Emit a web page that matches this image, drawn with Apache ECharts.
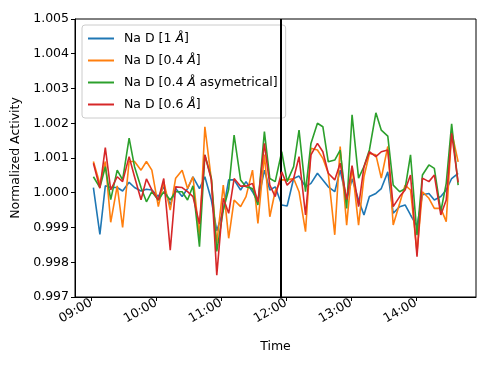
<!DOCTYPE html>
<html>
<head>
<meta charset="utf-8">
<script src="https://cdn.jsdelivr.net/npm/echarts@6/dist/echarts.min.js"></script>
<style>
  html, body { margin: 0; padding: 0; background: #fff; }
  #chart { width: 490px; height: 368px; }
</style>
</head>
<body>
<div id="chart"></div>
<script>
// sample times (HH:MM)
const times = ['09:02', '09:08', '09:13', '09:18', '09:24', '09:29', '09:35', '09:40', '09:46', '09:51',
  '09:56', '10:02', '10:07', '10:13', '10:18', '10:24', '10:29', '10:34', '10:40', '10:45', '10:51',
  '10:56', '11:02', '11:07', '11:12', '11:18', '11:23', '11:29', '11:34', '11:40',
  '11:45', '11:50', '11:56', '12:01', '12:07', '12:12', '12:18', '12:23', '12:29', '12:34', '12:39', '12:45',
  '12:50', '12:56', '13:01', '13:07', '13:12', '13:17', '13:23', '13:28', '13:34', '13:39', '13:45',
  '13:50', '13:55', '14:01', '14:06', '14:12', '14:17', '14:23', '14:28', '14:33', '14:39']

const naD1 = [1.00015, 0.99880, 1.00020, 1.00015, 1.00015, 1.00005, 1.00030, 1.00015, 1.00005, 1.00010,
  1.00008, 0.99989, 1.00017, 0.99965, 1.00012, 0.99989, 1.00012, 1.00046, 1.00012, 1.00046, 0.99979,
  0.99890, 0.99950, 1.00037, 1.00037, 1.00008, 1.00032, 1.00003, 0.99974, 1.00065,
  1.00008, 1.00017, 0.99965, 0.99962, 1.00041, 1.00048, 1.00017, 1.00027, 1.00056, 1.00037, 1.00017, 1.00003,
  1.00065, 0.99979, 1.00040, 0.99979, 0.99936, 0.99989, 0.99998, 1.00012, 1.00060, 0.99941, 0.99960,
  0.99965, 0.99936, 0.99904, 0.99994, 0.99998, 0.99979, 0.99989, 1.00008, 1.00041, 1.00056]

const naD04 = [1.00090, 1.00025, 1.00090, 0.99915, 1.00020, 0.99900, 1.00090, 1.00090, 1.00065, 1.00090,
  1.00065, 0.99960, 1.00032, 0.99950, 1.00042, 1.00065, 1.00012, 1.00046, 0.99874, 1.00190, 1.00037,
  0.99854, 1.00022, 0.99869, 0.99979, 0.99960, 0.99989, 1.00065, 0.99912, 1.00110,
  0.99931, 1.00005, 1.00037, 1.00037, 1.00041, 1.00003, 0.99888, 1.00128, 1.00123, 1.00099, 1.00056, 0.99879,
  1.00133, 0.99907, 1.00075, 0.99907, 1.00046, 1.00113, 1.00109, 1.00042, 1.00133, 0.99907, 0.99970,
  1.00022, 1.00008, 0.99830, 1.00003, 0.99984, 0.99955, 0.99955, 0.99917, 1.00176, 1.00089]

const naD04asym = [1.00046, 1.00015, 1.00075, 0.99980, 1.00065, 1.00037, 1.00157, 1.00075, 1.00015, 0.99974,
  1.00003, 0.99979, 1.00003, 0.99979, 1.00003, 1.00003, 0.99979, 1.00020, 0.99845, 1.00109, 1.00041,
  0.99831, 0.99950, 1.00010, 1.00166, 1.00037, 1.00017, 1.00012, 0.99965, 1.00176,
  1.00041, 1.00032, 1.00118, 1.00032, 1.00075, 1.00180, 1.00003, 1.00142, 1.00200, 1.00190, 1.00089, 1.00094,
  1.00123, 0.99955, 1.00224, 1.00042, 1.00075, 1.00123, 1.00230, 1.00180, 1.00163, 1.00022, 1.00003,
  1.00012, 1.00109, 0.99878, 1.00051, 1.00080, 1.00070, 0.99946, 1.00027, 1.00198, 1.00022]

const naD06 = [1.00085, 1.00013, 1.00130, 1.00008, 1.00046, 1.00032, 1.00104, 1.00046, 0.99980, 1.00040,
  1.00008, 0.99979, 1.00041, 0.99835, 1.00017, 1.00015, 1.00003, 0.99989, 0.99910, 1.00109, 1.00037,
  0.99763, 0.99984, 0.99941, 1.00041, 1.00019, 1.00019, 1.00027, 0.99974, 1.00142,
  1.00022, 0.99989, 1.00060, 1.00022, 1.00041, 1.00104, 0.99936, 1.00109, 1.00142, 1.00118, 1.00056, 1.00037,
  1.00085, 0.99980, 1.00078, 0.99960, 1.00075, 1.00118, 1.00104, 1.00118, 1.00123, 0.99960, 0.99989,
  1.00008, 1.00051, 0.99816, 1.00042, 1.00032, 1.00051, 0.99936, 0.99979, 1.00171, 1.00030]

const seriesNames = ['Na D [1 Å]', 'Na D [0.4 Å]', 'Na D [0.4 Å asymetrical]', 'Na D [0.6 Å]']
const hourTicks = ['09:00', '10:00', '11:00', '12:00', '13:00', '14:00']
const cutoffTime = '11:55'

const toMin = s => {
  const [h, m] = s.split(':').map(Number)
  return h * 60 + m
}
const fmt = v => {
  const h = Math.floor(v / 60)
  const m = Math.round(v - h * 60)
  return String(h).padStart(2, '0') + ':' + String(m).padStart(2, '0')
}
const pairs = arr => arr.map((v, i) => [toMin(times[i]), v])
const tickMins = hourTicks.map(toMin)

const colors = ['#1f77b4', '#ff7f0e', '#2ca02c', '#d62728']
const font = 'DejaVu Sans'
const allData = [naD1, naD04, naD04asym, naD06]

const myChart = echarts.init(document.getElementById('chart'), null, { renderer: 'canvas' })
const option = {
  animation: false,
  color: colors,
  textStyle: { fontFamily: font, color: '#000' },
  grid: {
    left: 75,
    right: 14,
    top: 19,
    bottom: 71,
    show: true,
    borderColor: '#000',
    borderWidth: 1
  },
  legend: {
    orient: 'vertical',
    left: 82,
    top: 25,
    padding: [7, 8, 7, 6],
    itemGap: 9,
    itemWidth: 26,
    itemHeight: 2,
    icon: 'rect',
    backgroundColor: 'rgba(255,255,255,0.8)',
    borderColor: '#cccccc',
    borderWidth: 1,
    borderRadius: 3,
    data: seriesNames,
    formatter: name => name.replace('Å', '{i|Å}'),
    textStyle: {
      fontFamily: font,
      fontSize: 12.5,
      color: '#000',
      padding: [0, 0, 0, 5],
      rich: {
        i: { fontFamily: font, fontSize: 12.5, fontStyle: 'italic', color: '#000' }
      }
    }
  },
  xAxis: {
    type: 'value',
    min: 525,
    max: 895.5,
    name: 'Time',
    nameLocation: 'middle',
    nameGap: 43,
    nameTextStyle: { fontFamily: font, fontSize: 12.5, color: '#000' },
    axisLine: { show: true, lineStyle: { color: '#000', width: 1 } },
    axisTick: { show: true, length: 4, customValues: tickMins, lineStyle: { color: '#000' } },
    axisLabel: {
      customValues: tickMins,
      rotate: 30,
      margin: 5,
      fontFamily: font,
      fontSize: 12.5,
      color: '#000',
      formatter: v => fmt(v)
    },
    splitLine: { show: false }
  },
  yAxis: {
    type: 'value',
    min: 0.997,
    max: 1.005,
    interval: 0.001,
    name: 'Normalized Activity',
    nameLocation: 'middle',
    nameGap: 51,
    nameTextStyle: { fontFamily: font, fontSize: 12.5, color: '#000' },
    axisLine: { show: true, lineStyle: { color: '#000', width: 1 } },
    axisTick: { show: true, length: 4, lineStyle: { color: '#000' } },
    axisLabel: {
      margin: 6,
      fontFamily: font,
      fontSize: 12.5,
      color: '#000',
      formatter: v => v.toFixed(3)
    },
    splitLine: { show: false }
  },
  series: allData.map((arr, k) => ({
    name: seriesNames[k],
    type: 'line',
    data: pairs(arr),
    symbol: 'none',
    lineStyle: { width: 1.6, color: colors[k] },
    z: 2 + k,
    markLine: k === 0 ? {
      symbol: 'none',
      silent: true,
      label: { show: false },
      lineStyle: { color: '#000', width: 2, type: 'solid' },
      data: [{ xAxis: toMin(cutoffTime) + 0.4 }]
    } : undefined
  }))
}
option && myChart.setOption(option)
</script>
</body>
</html>
